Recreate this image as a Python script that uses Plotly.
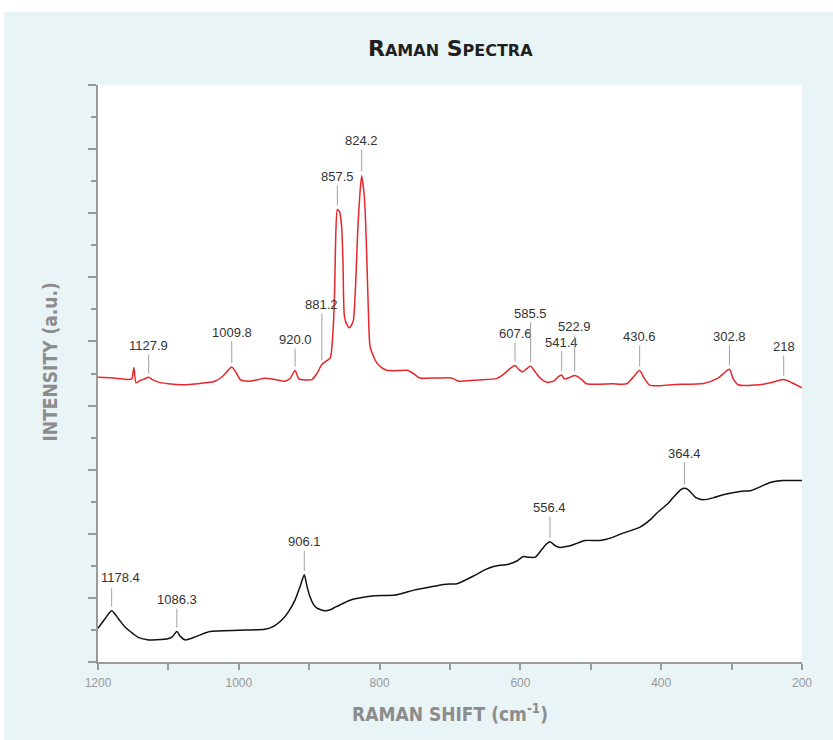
import numpy as np
import plotly.graph_objects as go

# ---------------- data ----------------
red_x = [1200, 1175, 1157, 1152, 1149, 1146, 1140, 1134, 1128, 1122, 1114, 1100, 1081, 1055,
         1034, 1022, 1010, 1003, 998, 986, 975, 963, 950, 934, 927, 920, 914.5, 905, 896,
         889, 882, 875, 870, 866, 864, 862, 860, 857, 854, 852, 850, 846, 843, 839, 837,
         834, 831, 828, 825.5, 822, 820, 818, 816, 813.6, 808, 804, 797, 790, 775, 761,
         752, 743, 720, 698, 690, 688, 660, 634, 624, 615, 607.6, 602, 597, 591, 585.5,
         579, 572, 563, 553, 546, 541.4, 537.6, 530, 522.9, 517, 513, 506, 470, 449, 440,
         430.6, 424, 416, 380, 340, 320, 303, 298, 290.5, 260, 245, 226, 215, 200]
red_y = [8.88, 8.85, 8.81, 8.84, 9.18, 8.71, 8.78, 8.83, 8.88, 8.80, 8.73, 8.68, 8.65, 8.69,
         8.76, 8.93, 9.20, 9.00, 8.81, 8.76, 8.80, 8.85, 8.82, 8.76, 8.85, 9.09, 8.83, 8.80, 8.81,
         9.00, 9.28, 9.40, 9.49, 10.38, 11.5, 13.5, 14.12, 14.05, 13.6, 12.5, 10.79, 10.5, 10.43, 10.55, 10.69,
         11.8, 13.5, 14.6, 15.17, 14.6, 13.8, 12.46, 11.0, 9.85, 9.5, 9.33, 9.18, 9.10, 9.09, 9.10,
         9.00, 8.86, 8.86, 8.86, 8.78, 8.76, 8.80, 8.84, 8.97, 9.15, 9.25, 9.12, 9.05, 9.15, 9.23,
         9.05, 8.86, 8.73, 8.76, 8.90, 8.95, 8.83, 8.88, 8.94, 8.88, 8.81, 8.68, 8.68, 8.68, 8.88,
         9.09, 8.85, 8.63, 8.66, 8.69, 8.85, 9.13, 8.85, 8.65, 8.65, 8.71, 8.81, 8.72, 8.55]

black_x = [1200, 1190, 1180.6, 1171, 1162, 1150, 1143, 1128, 1110, 1098, 1094, 1088, 1083, 1076,
           1060, 1041, 1000, 963, 950, 939, 930, 920, 913, 907, 903, 899, 894, 889, 878, 870,
           863, 850, 840, 825, 811, 778, 765, 750, 730, 717, 700, 690, 665, 650, 638, 617,
           605, 596, 588, 579, 570, 563, 558, 550, 544, 535, 525, 508, 487, 470, 458, 430,
           415, 406, 390, 383, 372, 367, 362, 357, 350, 340, 325, 312, 288, 272, 258, 245, 227, 200]
black_y = [1.05, 1.35, 1.60, 1.35, 1.10, 0.88, 0.77, 0.69, 0.70, 0.74, 0.80, 0.95, 0.80, 0.69,
           0.80, 0.95, 0.99, 1.02, 1.12, 1.31, 1.55, 1.94, 2.35, 2.72, 2.35, 2.04, 1.80, 1.68, 1.60, 1.63,
           1.71, 1.85, 1.94, 2.01, 2.06, 2.09, 2.16, 2.25, 2.33, 2.39, 2.43, 2.44, 2.70, 2.88, 2.98, 3.05,
           3.15, 3.29, 3.27, 3.27, 3.50, 3.68, 3.75, 3.62, 3.57, 3.60, 3.66, 3.79, 3.79, 3.88, 3.99, 4.21,
           4.45, 4.65, 4.95, 5.13, 5.38, 5.42, 5.38, 5.27, 5.12, 5.06, 5.13, 5.22, 5.32, 5.35, 5.48, 5.60, 5.66, 5.66]

red_label_text = ["1127.9", "1009.8", "920.0", "881.2", "857.5", "824.2", "607.6",
                  "585.5", "541.4", "522.9", "430.6", "302.8", "218"]
red_label_x = [1128, 1010, 920, 882, 860, 825.5, 607.6, 585.5, 541.4, 522.9, 430.6, 303, 226]
red_label_rise = [-32, -35, -31, -60, -33, -35, -32, -53, -33, -49, -34, -33, -33]
red_label_dx = [0] * 13

black_label_text = ["1178.4", "1086.3", "906.1", "556.4", "364.4"]
black_label_x = [1180.6, 1088, 907, 558, 367]
black_label_rise = [-33, -32, -33, -34, -35]
black_label_dx = [9, 0, 0, 0, 0]

x_ticks = [1200, 1000, 800, 600, 400, 200]

# ---------------- layout constants ----------------
W, H = 833, 740
ML, MR, MT, MB = 98, 31, 85, 78
PW, PH = W - ML - MR, H - MT - MB
PANEL = "#e9f4f6"
AXC = "#9a9a9a"
GRAYTXT = "#8c8c8c"
LBLFONT = dict(family="Liberation Sans, Arial, sans-serif", size=13, color="#333333")

fig = go.Figure()
fig.add_trace(go.Scatter(x=red_x, y=red_y, mode="lines",
                         line=dict(color="#e8262b", width=1.5, shape="spline", smoothing=0.6),
                         hoverinfo="skip"))
fig.add_trace(go.Scatter(x=black_x, y=black_y, mode="lines",
                         line=dict(color="#111111", width=1.5, shape="spline", smoothing=0.6),
                         hoverinfo="skip"))

anns = []


def add_labels(xs, ys, lx, lt, rise, dxs):
    xa = np.array(xs[::-1], dtype=float)
    ya = np.array(ys[::-1], dtype=float)
    for x, t, r, dx in zip(lx, lt, rise, dxs):
        yv = float(np.interp(x, xa, ya))
        if dx == 0:
            anns.append(dict(x=x, y=yv, xref="x", yref="y", text=t, showarrow=True,
                             arrowhead=0, arrowwidth=1, arrowcolor="#a0a0a0", ax=0, ay=r,
                             standoff=4, font=LBLFONT))
        else:
            # leader line alone, then the text shifted sideways
            anns.append(dict(x=x, y=yv, xref="x", yref="y", text="", showarrow=True,
                             arrowhead=0, arrowwidth=1, arrowcolor="#a0a0a0", ax=0, ay=r + 9,
                             standoff=4))
            anns.append(dict(x=x, y=yv, xref="x", yref="y", text=t, showarrow=False,
                             xshift=dx, yshift=-r, yanchor="middle", font=LBLFONT))


add_labels(red_x, red_y, red_label_x, red_label_text, red_label_rise, red_label_dx)
add_labels(black_x, black_y, black_label_x, black_label_text, black_label_rise, black_label_dx)

cond = "DejaVu Sans Condensed, DejaVu Sans, sans-serif"
# title
anns.append(dict(x=0.5, y=1, xref="paper", yref="paper", yanchor="middle", yshift=MT - 48,
                 showarrow=False,
                 text="<b>R<span style='font-size:16px'>AMAN</span> S<span style='font-size:16px'>PECTRA</span></b>",
                 font=dict(family="DejaVu Sans, sans-serif", size=22, color="#231f20")))
# x title
anns.append(dict(x=0.5, y=0, xref="paper", yref="paper", yanchor="middle", yshift=-51,
                 showarrow=False, text="<b>RAMAN SHIFT (cm<sup>-1</sup>)</b>",
                 font=dict(family=cond, size=19, color=GRAYTXT)))
# y title
anns.append(dict(x=0, y=0.5, xref="paper", yref="paper", xanchor="center", yanchor="middle",
                 xshift=-(ML - 49), yshift=11,
                 showarrow=False, textangle=-90, text="<b>INTENSITY (a.u.)</b>",
                 font=dict(family=cond, size=19, color=GRAYTXT)))

shapes = [
    dict(type="rect", xref="paper", yref="paper", layer="below", line=dict(width=0),
         fillcolor=PANEL,
         x0=(4 - ML) / PW, x1=(W - ML) / PW, y0=-(MB) / PH, y1=1 + (MT - 12) / PH),
    dict(type="rect", xref="paper", yref="paper", layer="below", line=dict(width=0),
         fillcolor="white", x0=0, x1=1, y0=0, y1=1),
]

fig.update_layout(
    width=W, height=H, margin=dict(l=ML, r=MR, t=MT, b=MB, pad=0),
    paper_bgcolor="white", plot_bgcolor="white", showlegend=False,
    annotations=anns, shapes=shapes,
    xaxis=dict(range=[1200, 200], showgrid=False, zeroline=False, showline=True,
               linecolor=AXC, linewidth=1.5, ticks="outside", ticklen=6, tickwidth=1.5,
               tickcolor=AXC, tickvals=x_ticks, ticktext=[str(v) for v in x_ticks],
               ticklabelstandoff=3,
               tickfont=dict(family="Liberation Sans, Arial, sans-serif", size=12, color="#999999"),
               minor=dict(dtick=100, tick0=200, ticks="outside", ticklen=6, tickwidth=1.5, tickcolor=AXC),
               fixedrange=True),
    yaxis=dict(range=[0, 18], showgrid=False, zeroline=False, showline=True,
               linecolor=AXC, linewidth=1.5, ticks="outside", ticklen=8, tickwidth=1.5,
               tickcolor=AXC, dtick=2, tick0=0, showticklabels=False,
               minor=dict(dtick=1, tick0=0, ticks="outside", ticklen=5, tickwidth=1.5, tickcolor=AXC),
               fixedrange=True),
)

fig.write_html("out.html", config={"displayModeBar": False},
               post_script="document.body.style.margin='0px';")
